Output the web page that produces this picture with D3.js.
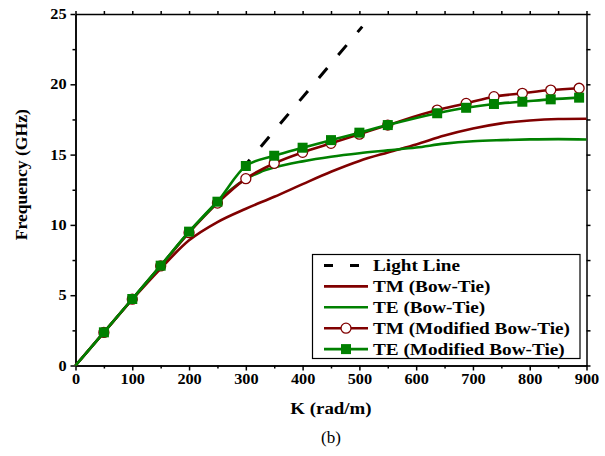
<!DOCTYPE html>
<html>
<head>
<meta charset="utf-8">
<script src="https://cdn.jsdelivr.net/npm/d3@7"></script>
<style>
  body { margin: 0; background: #fff; }
  text { font-family: "Liberation Serif", "Times New Roman", serif; }
  .axis text { font-size: 14.5px; font-weight: bold; fill: #000; }
  .axis path, .axis line { stroke: #000; stroke-width: 1.5; }
  .axis-label { font-size: 16px; font-weight: bold; }
  .legend text { font-size: 16px; font-weight: bold; }
</style>
</head>
<body>
<svg id="chart" width="605" height="456"></svg>
<script>
// Data (K in rad/m, frequency in GHz)
const lightK = [295, 505];
const lightF = [14.06, 24.1];

const tmBowK = [0, 50, 100, 150, 200, 250, 300, 350, 400, 450, 500, 550, 600, 650, 700, 750, 800, 850, 900];
const tmBowF = [0, 2.35, 4.7, 6.9, 8.9, 10.2, 11.15, 12.0, 12.9, 13.78, 14.55, 15.15, 15.72, 16.35, 16.85, 17.22, 17.43, 17.53, 17.55];

const teBowK = [0, 50, 100, 150, 200, 250, 275, 300, 325, 350, 400, 450, 500, 550, 600, 650, 700, 750, 800, 850, 900];
const teBowF = [0, 2.36, 4.73, 7.1, 9.5, 11.65, 12.55, 13.25, 13.75, 14.08, 14.52, 14.85, 15.1, 15.3, 15.5, 15.78, 15.95, 16.03, 16.08, 16.1, 16.07];

const tmModK = [0, 50, 100, 150, 200, 250, 300, 350, 400, 450, 500, 550, 637, 688, 737, 787, 837, 887];
const tmModF = [0, 2.35, 4.72, 7.08, 9.45, 11.55, 13.29, 14.38, 15.16, 15.8, 16.45, 17.1, 18.17, 18.64, 19.12, 19.36, 19.59, 19.72];

const teModK = [0, 50, 100, 150, 200, 250, 300, 350, 400, 450, 500, 550, 637, 688, 737, 787, 837, 887];
const teModF = [0, 2.36, 4.73, 7.1, 9.52, 11.65, 14.19, 14.92, 15.49, 16.03, 16.56, 17.1, 17.94, 18.33, 18.6, 18.76, 18.93, 19.05];

const legendLabels = ["Light Line", "TM (Bow-Tie)", "TE (Bow-Tie)", "TM (Modified Bow-Tie)", "TE (Modified Bow-Tie)"];

const RED = "#800000";
const GREEN = "#008000";

const svg = d3.select("#chart");
const margin = {top: 14, left: 75.5};
const width = 511;
const height = 351.5;
const g = svg.append("g")
    .attr("transform", `translate(${margin.left}, ${margin.top})`);

const xScale = d3.scaleLinear().domain([0, 900]).range([0, width]);
const yScale = d3.scaleLinear().domain([0, 25]).range([height, 0]);

const zip = (ks, fs) => ks.map((k, i) => ({k: k, f: fs[i]}));

// the original type is wider than Liberation Serif, so widen the glyphs a bit
function stretch(sel, factor) {
    sel.each(function() {
        const w = this.getComputedTextLength();
        d3.select(this)
            .attr("textLength", w * factor)
            .attr("lengthAdjust", "spacingAndGlyphs");
    });
}

// axes (major + minor ticks, mirrored on top/right)
const xMajor = d3.range(0, 901, 100);
const xMinor = d3.range(50, 900, 100);
const yMajor = d3.range(0, 26, 5);
const yMinor = d3.range(2.5, 25, 5);

const xAxisG = g.append("g").attr("class", "axis")
    .attr("transform", `translate(0, ${height})`)
    .call(d3.axisBottom(xScale).tickValues(xMajor).tickSize(5).tickSizeOuter(0).tickPadding(3));
g.append("g").attr("class", "axis")
    .attr("transform", `translate(0, ${height})`)
    .call(d3.axisBottom(xScale).tickValues(xMinor).tickSize(3).tickFormat("").tickSizeOuter(0));
g.append("g").attr("class", "axis")
    .call(d3.axisTop(xScale).tickValues(xMajor.concat(xMinor)).tickSize(3).tickFormat("").tickSizeOuter(0));

const yAxisG = g.append("g").attr("class", "axis")
    .call(d3.axisLeft(yScale).tickValues(yMajor).tickSize(5).tickSizeOuter(0).tickPadding(4));
g.append("g").attr("class", "axis")
    .call(d3.axisLeft(yScale).tickValues(yMinor).tickSize(3).tickFormat("").tickSizeOuter(0));
g.append("g").attr("class", "axis")
    .attr("transform", `translate(${width}, 0)`)
    .call(d3.axisRight(yScale).tickValues(yMajor.concat(yMinor)).tickSize(4).tickFormat("").tickSizeOuter(0));

stretch(xAxisG.selectAll("text"), 1.12);
stretch(yAxisG.selectAll("text"), 1.12);

// axis titles
const xTitle = g.append("text")
    .attr("class", "axis-label")
    .attr("x", width / 2)
    .attr("y", height + 48)
    .attr("text-anchor", "middle")
    .text("K (rad/m)");
const yTitle = g.append("text")
    .attr("class", "axis-label")
    .attr("transform", `translate(${-margin.left + 27}, ${height / 2 - 15}) rotate(-90)`)
    .attr("text-anchor", "middle")
    .text("Frequency (GHz)");
stretch(xTitle, 1.18);
stretch(yTitle, 1.1);

svg.append("text")
    .attr("x", 331)
    .attr("y", 443)
    .attr("text-anchor", "middle")
    .style("font-size", "17px")
    .text("(b)");

// lines
const line = d3.line()
    .x(d => xScale(d.k))
    .y(d => yScale(d.f))
    .curve(d3.curveMonotoneX);

// light line, dash phase set so the dashes fall where they do in the figure
g.append("path")
    .attr("d", d3.line().x(d => xScale(d.k)).y(d => yScale(d.f))(zip(lightK, lightF)))
    .attr("fill", "none")
    .attr("stroke", "#000")
    .attr("stroke-width", 3)
    .attr("stroke-dasharray", "13,17")
    .attr("stroke-dashoffset", 2.4);

const series = [
    {data: zip(tmBowK, tmBowF), color: RED},
    {data: zip(teBowK, teBowF), color: GREEN},
    {data: zip(tmModK, tmModF), color: RED}
];
series.forEach(s => {
    g.append("path")
        .attr("d", line(s.data))
        .attr("fill", "none")
        .attr("stroke", s.color)
        .attr("stroke-width", 2.6);
});

// markers (none drawn at the origin)
g.selectAll(".tm-mark").data(zip(tmModK, tmModF).filter(d => d.k > 0))
    .enter().append("circle")
    .attr("cx", d => xScale(d.k))
    .attr("cy", d => yScale(d.f))
    .attr("r", 5)
    .attr("fill", "#fff")
    .attr("stroke", RED)
    .attr("stroke-width", 1.3);
// green modified line goes over the red markers
g.append("path")
    .attr("d", line(zip(teModK, teModF)))
    .attr("fill", "none")
    .attr("stroke", GREEN)
    .attr("stroke-width", 2.6);
g.selectAll(".te-mark").data(zip(teModK, teModF).filter(d => d.k > 0))
    .enter().append("rect")
    .attr("x", d => xScale(d.k) - 5)
    .attr("y", d => yScale(d.f) - 5)
    .attr("width", 10)
    .attr("height", 10)
    .attr("fill", GREEN);

// legend
const lg = svg.append("g").attr("class", "legend");
lg.append("rect")
    .attr("x", 312.5).attr("y", 254.5)
    .attr("width", 267.5).attr("height", 104)
    .attr("fill", "#fff")
    .attr("stroke", "#000")
    .attr("stroke-width", 1.2);
const rowY = i => 265.5 + i * 20.9;
legendLabels.forEach((label, i) => {
    const y = rowY(i);
    const sample = lg.append("line")
        .attr("x1", 324).attr("x2", 368)
        .attr("y1", y).attr("y2", y)
        .attr("stroke-width", 2.6);
    if (i === 0) {
        sample.attr("stroke", "#000").attr("stroke-width", 3)
            .attr("x1", 324).attr("x2", 360)
            .attr("stroke-dasharray", "9,17");
    } else {
        sample.attr("stroke", (i === 1 || i === 3) ? RED : GREEN);
    }
    if (i === 3) {
        lg.append("circle").attr("cx", 346).attr("cy", y).attr("r", 5)
            .attr("fill", "#fff").attr("stroke", RED).attr("stroke-width", 1.3);
    }
    if (i === 4) {
        lg.append("rect").attr("x", 341).attr("y", y - 5)
            .attr("width", 10).attr("height", 10).attr("fill", GREEN);
    }
    const t = lg.append("text")
        .attr("x", 373)
        .attr("y", y + 5.5)
        .text(label);
    stretch(t, 1.2);
});
</script>
</body>
</html>
